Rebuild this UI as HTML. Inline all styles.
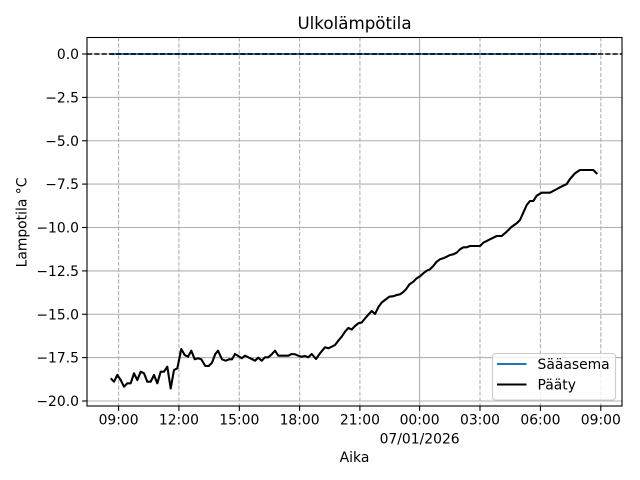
<!DOCTYPE html>
<html>
<head>
<meta charset="utf-8">
<style>
html,body{margin:0;padding:0;background:#fff;}
svg{display:block;}
text{font-family:"DejaVu Sans","Liberation Sans",sans-serif;fill:#000;}
</style>
</head>
<body>
<svg width="640" height="480" viewBox="0 0 640 480" xmlns="http://www.w3.org/2000/svg">
<rect x="0" y="0" width="640" height="480" fill="#fff"/>
<!-- horizontal grid -->
<g stroke="#b0b0b0" stroke-width="1.1">
<line x1="87" y1="54" x2="622" y2="54"/>
<line x1="87" y1="97.4" x2="622" y2="97.4"/>
<line x1="87" y1="140.75" x2="622" y2="140.75"/>
<line x1="87" y1="184.1" x2="622" y2="184.1"/>
<line x1="87" y1="227.5" x2="622" y2="227.5"/>
<line x1="87" y1="270.9" x2="622" y2="270.9"/>
<line x1="87" y1="314.25" x2="622" y2="314.25"/>
<line x1="87" y1="357.6" x2="622" y2="357.6"/>
<line x1="87" y1="401" x2="622" y2="401"/>
<line x1="419.6" y1="37.5" x2="419.6" y2="406"/>
</g>
<!-- vertical dashed grid -->
<g stroke="#b0b0b0" stroke-width="1.1" stroke-dasharray="4.1 1.8">
<line x1="118.6" y1="37.5" x2="118.6" y2="406"/>
<line x1="178.9" y1="37.5" x2="178.9" y2="406"/>
<line x1="239.3" y1="37.5" x2="239.3" y2="406"/>
<line x1="299.6" y1="37.5" x2="299.6" y2="406"/>
<line x1="359.9" y1="37.5" x2="359.9" y2="406"/>
<line x1="480.0" y1="37.5" x2="480.0" y2="406"/>
<line x1="540.4" y1="37.5" x2="540.4" y2="406"/>
<line x1="600.8" y1="37.5" x2="600.8" y2="406"/>
</g>
<!-- series -->
<line x1="110.5" y1="54" x2="597.3" y2="54" stroke="#1f77b4" stroke-width="2.1"/>
<polyline fill="none" stroke="#000" stroke-width="2.1" stroke-linejoin="round" points="110.7,378.3 114,381.7 117.3,375 120.7,380 124,386.7 127.3,383.3 130.7,383.3 134,373.3 137.3,380 140.7,371.7 144,373.3 147.3,381.7 150.7,381.7 154,375 157.3,383.3 160.7,371.7 164,371.7 167.3,366.7 170.7,388.5 174,370 177.3,368.3 181.3,349 184.7,355 188,356.7 191.3,350.7 194.7,359.3 198,358.3 201.3,359.3 205.3,366 208.7,366 212,362.7 215.3,354 218,350.7 222,359.3 225.7,360.7 229,359.3 232,359.3 235,354 238.3,356 241.7,358.3 245,355.7 248.3,357.3 251.7,359 255,360.7 258.3,357.7 261.7,360.7 265,357.3 268.3,357.3 271.7,354.3 275,350.7 278.3,355.7 288.3,355.7 291.7,354 295,354.3 298.3,355.7 301.7,356.7 305,356 308.3,357.3 311.7,354 316,359 320,353.3 325,347.3 328.3,348.3 331.7,346.7 335,345 338.3,340.7 341.7,336.7 345,331.7 348.3,328 351.7,329.5 355,326 358.3,323.3 361.7,322.5 366.7,316.5 371.7,311 375,314 378.3,307.3 381.7,302.5 385,300 389.3,296.7 393.3,296.2 396.7,295 400,294.3 403.3,292 406,289.3 409.3,284.5 413.3,281.7 416.7,278.3 420,276.3 423.3,273.3 426.7,270.7 430,269.3 433.3,266 436.7,261.7 440,259.3 443.3,258.3 446.7,256.7 450,255 453.3,254.3 456.7,252.7 460,249.3 463.3,247.3 466.7,247.3 470,246 480,246 483.3,242.7 490,239.3 496.7,236 501.7,236 506.7,231.7 511.7,226.7 516.7,223.3 520,220 523.3,212.7 526.7,205 530,201 533.3,201 536.7,195.7 541.7,192.7 550,192.7 555,190 560,187.3 566.7,184 570,179 575,173.3 580,170 593.3,170 597.3,174"/>
<!-- axhline 0 -->
<line x1="87" y1="54" x2="622" y2="54" stroke="#000" stroke-width="1.4" stroke-dasharray="5.1 2.2"/>
<!-- spines -->
<rect x="87" y="37.5" width="535" height="368.5" fill="none" stroke="#000" stroke-width="1.1"/>
<!-- y ticks -->
<g stroke="#000" stroke-width="1.1">
<line x1="82.1" y1="54" x2="87" y2="54"/>
<line x1="82.1" y1="97.4" x2="87" y2="97.4"/>
<line x1="82.1" y1="140.75" x2="87" y2="140.75"/>
<line x1="82.1" y1="184.1" x2="87" y2="184.1"/>
<line x1="82.1" y1="227.5" x2="87" y2="227.5"/>
<line x1="82.1" y1="270.9" x2="87" y2="270.9"/>
<line x1="82.1" y1="314.25" x2="87" y2="314.25"/>
<line x1="82.1" y1="357.6" x2="87" y2="357.6"/>
<line x1="82.1" y1="401" x2="87" y2="401"/>
<line x1="118.6" y1="406" x2="118.6" y2="410.9"/>
<line x1="178.9" y1="406" x2="178.9" y2="410.9"/>
<line x1="239.3" y1="406" x2="239.3" y2="410.9"/>
<line x1="299.6" y1="406" x2="299.6" y2="410.9"/>
<line x1="359.9" y1="406" x2="359.9" y2="410.9"/>
<line x1="419.6" y1="406" x2="419.6" y2="410.9"/>
<line x1="480.0" y1="406" x2="480.0" y2="410.9"/>
<line x1="540.4" y1="406" x2="540.4" y2="410.9"/>
<line x1="600.8" y1="406" x2="600.8" y2="410.9"/>
</g>
<g font-size="13.9" text-anchor="end">
<text x="79" y="59">0.0</text>
<text x="79" y="102.4">−2.5</text>
<text x="79" y="145.75">−5.0</text>
<text x="79" y="189.1">−7.5</text>
<text x="79" y="232.5">−10.0</text>
<text x="79" y="275.9">−12.5</text>
<text x="79" y="319.25">−15.0</text>
<text x="79" y="362.6">−17.5</text>
<text x="79" y="406">−20.0</text>
</g>
<g font-size="13.9" text-anchor="middle">
<text x="118.6" y="424.5">09:00</text>
<text x="178.9" y="424.5">12:00</text>
<text x="239.3" y="424.5">15:00</text>
<text x="299.6" y="424.5">18:00</text>
<text x="359.9" y="424.5">21:00</text>
<text x="419.6" y="424.5">00:00</text>
<text x="480.0" y="424.5">03:00</text>
<text x="540.4" y="424.5">06:00</text>
<text x="600.8" y="424.5">09:00</text>
<text x="419.6" y="443.5">07/01/2026</text>
<text x="354.5" y="462">Aika</text>
</g>
<text x="354.5" y="29" font-size="16.7" text-anchor="middle">Ulkolämpötila</text>
<text x="0" y="0" font-size="13.9" text-anchor="middle" transform="translate(26.5,222.5) rotate(-90)">Lampotila °C</text>
<!-- legend -->
<rect x="492.5" y="353.5" width="123" height="46.5" rx="3" ry="3" fill="#fff" fill-opacity="0.8" stroke="#cccccc" stroke-width="1.1"/>
<line x1="497" y1="364" x2="526.5" y2="364" stroke="#1f77b4" stroke-width="2.1"/>
<line x1="497" y1="384.5" x2="526.5" y2="384.5" stroke="#000" stroke-width="2.1"/>
<text x="537.5" y="369" font-size="13.9">Sääasema</text>
<text x="537.5" y="389.5" font-size="13.9">Pääty</text>
</svg>
</body>
</html>
